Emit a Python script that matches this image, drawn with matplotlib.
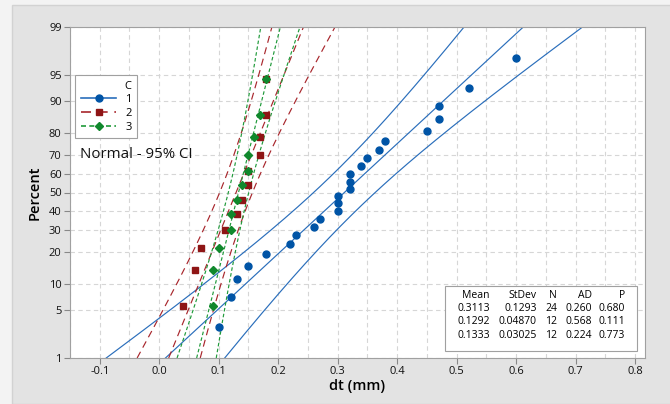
import numpy as np
import matplotlib
matplotlib.use('Agg')
import matplotlib.pyplot as plt
from matplotlib.lines import Line2D
from matplotlib.patches import Rectangle
from statistics import NormalDist

plt.rcParams['font.family'] = ['Open Sans', 'DejaVu Sans']

# ============= data =============
groups = ['1', '2', '3']

# plotting positions (percent)
pct_24 = [2.9, 7.0, 11.1, 15.2, 19.3, 23.4, 27.5, 31.6, 35.7, 39.8, 43.9, 48.0,
          52.0, 56.1, 60.2, 64.3, 68.4, 72.5, 76.6, 80.7, 84.8, 88.9, 93.0, 97.1]
pct_12 = [5.6, 13.7, 21.8, 29.8, 37.9, 46.0, 54.0, 62.1, 70.2, 78.2, 86.3, 94.4]

dt_1 = [0.10, 0.12, 0.13, 0.15, 0.18, 0.22, 0.23, 0.26, 0.27, 0.30, 0.30, 0.30,
        0.32, 0.32, 0.32, 0.34, 0.35, 0.37, 0.38, 0.45, 0.47, 0.47, 0.52, 0.60]
dt_2 = [0.04, 0.06, 0.07, 0.11, 0.13, 0.14, 0.15, 0.15, 0.17, 0.17, 0.18, 0.18]
dt_3 = [0.09, 0.09, 0.10, 0.12, 0.12, 0.13, 0.14, 0.15, 0.15, 0.16, 0.17, 0.18]

means = [0.3113, 0.1292, 0.1333]
stdevs = [0.1293, 0.04870, 0.03025]
counts = [24, 12, 12]
ad_vals = [0.260, 0.568, 0.224]
p_vals = [0.680, 0.111, 0.773]

y_ticks = [1, 5, 10, 20, 30, 40, 50, 60, 70, 80, 90, 95, 99]
x_ticks = [-0.1, 0.0, 0.1, 0.2, 0.3, 0.4, 0.5, 0.6, 0.7, 0.8]

nd = NormalDist()
def z(p):
    return np.array([nd.inv_cdf(v / 100.0) for v in np.atleast_1d(p)])

# ============= styles =============
colors = ['#0054a6', '#8e1515', '#10882c']
line_colors = ['#2a6ebb', '#a8262c', '#1f9a3a']
dashes = [None, (6, 4), (3, 2)]
markers = ['o', 's', 'D']
msizes = [5.0, 5.0, 4.5]

# ============= figure =============
fig = plt.figure(figsize=(6.7, 4.04), dpi=100)
fig.patch.set_facecolor('#f3f3f3')
fig.patches.append(Rectangle((12 / 670, 0), 1, (404 - 5) / 404, transform=fig.transFigure,
                             facecolor='#e3e3e3', edgecolor='#d2d2d2', lw=1, zorder=-5))

ax = fig.add_axes([70 / 670, 46 / 404, 575 / 670, 331 / 404])
ax.set_facecolor('white')

zz = np.linspace(z(1)[0], z(99)[0], 200)
data = [(pct_24, dt_1), (pct_12, dt_2), (pct_12, dt_3)]
handles = []
for i, (pcts, xs) in enumerate(data):
    m, s, n = means[i], stdevs[i], counts[i]
    center = m + s * zz
    half = 1.96 * s * np.sqrt((1 + zz ** 2 / 2) / n)
    for xl in (center - half, center, center + half):
        ln, = ax.plot(xl, zz, color=line_colors[i], lw=0.85, zorder=2)
        if dashes[i] is not None:
            ln.set_dashes(dashes[i])
    ax.plot(xs, z(pcts), ls='none', marker=markers[i], ms=msizes[i],
            color=colors[i], zorder=3 + i)
    h = Line2D([], [], color=line_colors[i], lw=1.2, marker=markers[i], ms=msizes[i],
               markerfacecolor=colors[i], markeredgecolor=colors[i])
    if dashes[i] is not None:
        h.set_dashes(dashes[i])
    handles.append(h)

ax.set_xlim(-0.1417, 0.8167)
ax.set_ylim(z(1)[0], z(99)[0])
ax.set_yticks(z(y_ticks))
ax.set_yticklabels([str(v) for v in y_ticks])
ax.set_xticks(x_ticks)
ax.set_xticklabels(['%.1f' % v for v in x_ticks])
ax.set_xticks(np.arange(-0.15, 0.85, 0.1), minor=True)
ax.tick_params(which='major', labelsize=8, length=4, color='#888888', pad=2, labelcolor='#111111')
ax.tick_params(which='minor', length=0)
ax.grid(True, which='both', color='#d6d6d6', ls=(0, (4, 3)), lw=0.8)
ax.set_axisbelow(True)
for sp in ax.spines.values():
    sp.set_color('#a0a0a0')

ax.set_xlabel('dt (mm)', fontsize=10.5, fontweight='semibold', labelpad=1)
ax.set_ylabel('Percent', fontsize=10.5, fontweight='semibold', labelpad=5)

leg = ax.legend(handles, groups, title='C', loc='upper left',
                bbox_to_anchor=(0.009, 0.855), borderaxespad=0, fontsize=8, title_fontsize=8,
                handlelength=3.2, fancybox=False, framealpha=1,
                edgecolor='#a0a0a0', borderpad=0.5, labelspacing=0.25)
leg._legend_box.align = 'right'
leg.get_frame().set_linewidth(0.8)

ax.text(0.018, 0.615, 'Normal - 95% CI', transform=ax.transAxes, fontsize=10.8,
        va='center', ha='left', color='#111111')

# stats table
ax.add_patch(Rectangle((0.652, 0.021), 0.334, 0.197, transform=ax.transAxes,
                       facecolor='white', edgecolor='#a0a0a0', lw=0.8, zorder=6))
col_x = [0.730, 0.812, 0.847, 0.908, 0.965]
row_y = [0.190, 0.151, 0.109, 0.069]
header = ['Mean', 'StDev', 'N', 'AD', 'P']
for cx, t in zip(col_x, header):
    ax.text(cx, row_y[0], t, transform=ax.transAxes, ha='right', va='center',
            fontsize=7.5, zorder=7)
for r in range(3):
    vals = ['%.4f' % means[r], '%#.4g' % stdevs[r], str(counts[r]),
            '%.3f' % ad_vals[r], '%.3f' % p_vals[r]]
    for cx, t in zip(col_x, vals):
        ax.text(cx, row_y[r + 1], t, transform=ax.transAxes, ha='right', va='center',
                fontsize=7.5, zorder=7)

fig.savefig('out.png', dpi=100, facecolor=fig.get_facecolor())
